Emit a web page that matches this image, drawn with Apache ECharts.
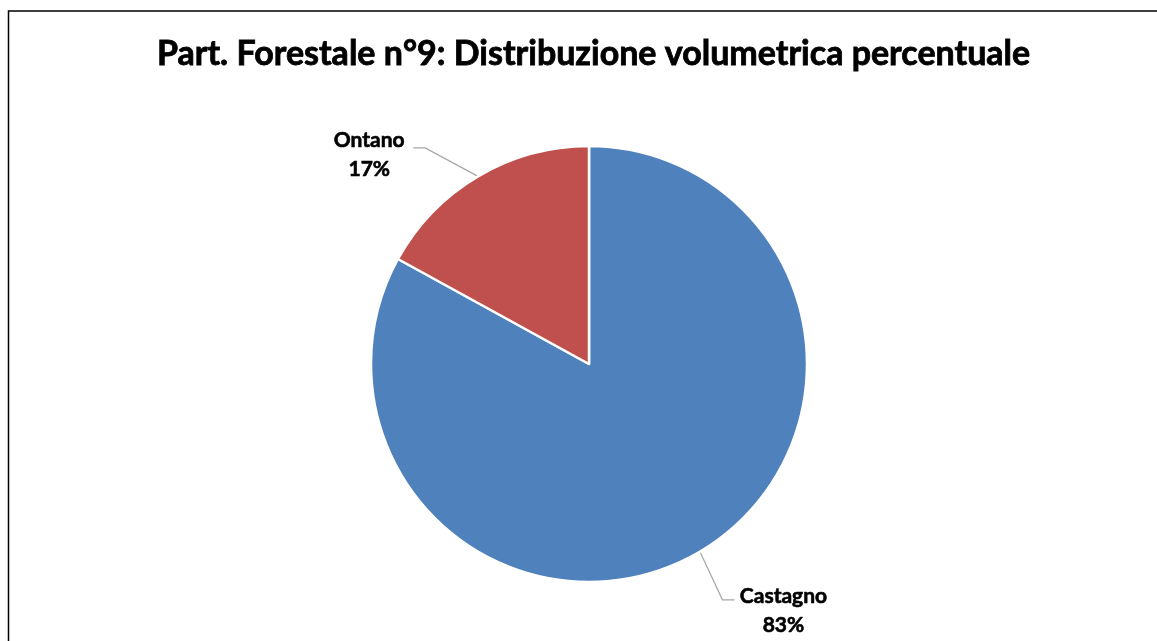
<!DOCTYPE html>
<html>
<head>
<meta charset="utf-8">
<script src="https://cdn.jsdelivr.net/npm/echarts@6/dist/echarts.min.js"></script>
<style>
  html, body { margin: 0; padding: 0; background: #fff; }
  #chart { width: 1157px; height: 641px; }
</style>
</head>
<body>
<div id="chart"></div>
<script>
// Volume share by species
const titleText = 'Part. Forestale n°9: Distribuzione volumetrica percentuale';
const species = ['Castagno', 'Ontano'];
const shares = [83, 17];
const sliceColors = ['#4F81BD', '#C0504D'];

const FONT = 'Lato';

const chart = echarts.init(document.getElementById('chart'));

const pieData = species.map((name, i) => ({
  name: name,
  value: shares[i],
  itemStyle: { color: sliceColors[i] },
  label: {
    rich: {
      t: {
        width: i === 0 ? 90 : 80,
        align: 'center',
        fontFamily: FONT,
        fontWeight: 'bold',
        fontSize: 21,
        lineHeight: 29,
        color: '#000',
        textBorderColor: '#000',
        textBorderWidth: 0.6,
        padding: i === 0 ? [22, 0, 0, 0] : [14, 0, 0, 0]
      }
    }
  },
  labelLine: i === 0 ? { length: 56, length2: 6 } : { length: 33, length2: 48 }
}));

chart.setOption({
  animation: false,
  backgroundColor: '#fff',
  title: {
    text: titleText,
    left: 152,
    top: 32,
    textStyle: {
      fontFamily: FONT,
      fontWeight: 'bold',
      fontSize: 34,
      color: '#000',
      textBorderColor: '#000',
      textBorderWidth: 0.8
    }
  },
  graphic: [{
    type: 'rect',
    shape: { x: 8.5, y: 11, width: 1300, height: 800 },
    style: { fill: 'none', stroke: '#000', lineWidth: 1.5 },
    silent: true,
    z: -1
  }],
  series: [{
    type: 'pie',
    center: [589, 364],
    radius: [0, 218],
    startAngle: 90,
    clockwise: true,
    itemStyle: { borderColor: '#fff', borderWidth: 2.5 },
    label: {
      show: true,
      position: 'outside',
      formatter: (p) => '{t|' + p.name + '}\n{t|' + p.value + '%}',
      distanceToLabelLine: 4
    },
    labelLine: {
      show: true,
      smooth: false,
      lineStyle: { color: '#A6A6A6', width: 1.2 }
    },
    // keep a short horizontal tail next to the label and a straight leg to the slice
    labelLayout: (params) => {
      const pts = params.labelLinePoints;
      if (!pts || pts.length < 3) return {};
      const start = pts[0];
      const end = pts[pts.length - 1];
      const dir = end[0] < start[0] ? 1 : -1;
      return {
        labelLinePoints: [start, [end[0] + dir * 12, end[1]], end]
      };
    },
    emphasis: { disabled: true },
    data: pieData
  }]
});
</script>
</body>
</html>
